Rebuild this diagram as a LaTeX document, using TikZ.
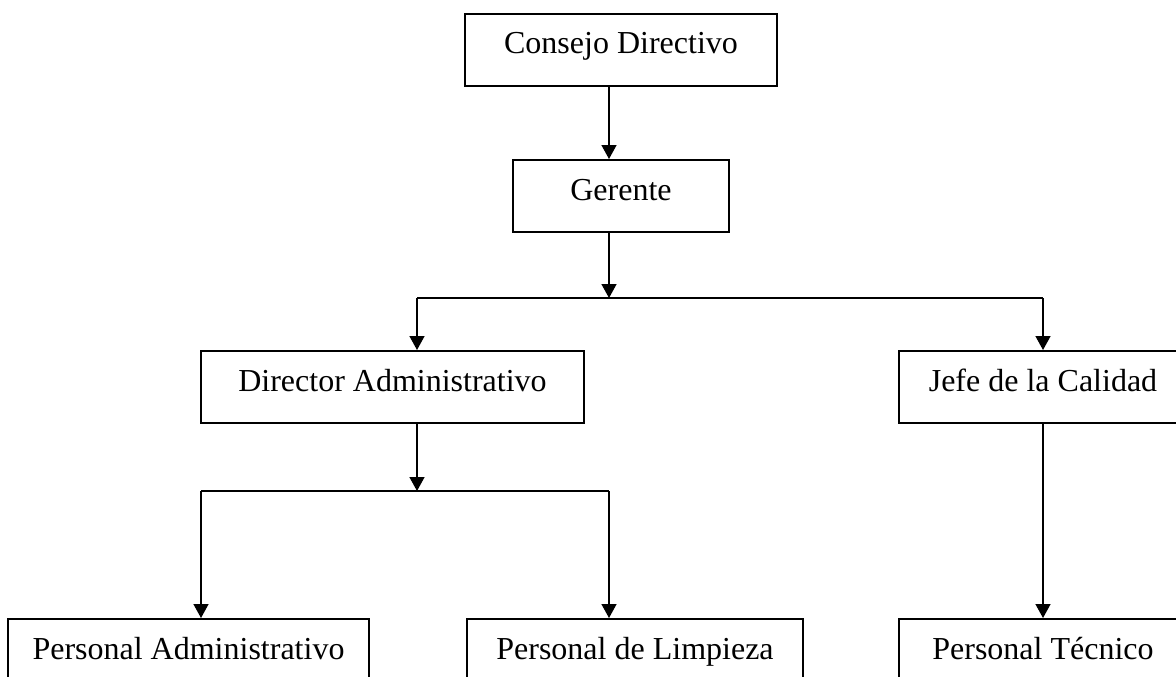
\documentclass[tikz,border=0pt]{standalone}
\usepackage{fontspec}
\setmainfont{Liberation Serif}
\usetikzlibrary{arrows.meta,positioning}

\begin{document}
\begin{tikzpicture}[x=1pt,y=1pt,line width=1.5pt,>={Triangle[length=14pt,width=15pt]},
  caja/.style={rectangle,draw,line width=2pt,inner sep=0pt,text height=40pt,text depth=32pt,font=\fontsize{32}{38}\selectfont}]
  \useasboundingbox (0,0) rectangle (1176,-677);
  \clip (0,0) rectangle (1176,-677);

  \node[caja,minimum width=312pt] (consejo) at (621,-50) {Consejo Directivo};
  \node[caja,minimum width=216pt] (gerente)[below=72pt of consejo] {Gerente};
  \node[caja,minimum width=383pt] (director)[below=117pt of gerente,xshift=-228.5pt] {Director Administrativo};
  \node[caja,minimum width=288pt] (jefe)[right=313pt of director] {Jefe de la Calidad};
  \node[caja,minimum width=361pt] (padm)[below=194pt of director,xshift=-204pt] {Personal Administrativo};
  \node[caja,minimum width=336pt] (limpieza)[right=96pt of padm] {Personal de Limpieza};
  \node[caja,minimum width=288pt] (tecnico)[below=194pt of jefe] {Personal Técnico};

  \coordinate (rama1) at (609,-298);
  \coordinate (ramaI) at (417,-298);
  \coordinate (rama2) at (417,-491);
  \coordinate (ramaA) at (201,-491);
  \coordinate (ramaB) at (609,-491);

  \draw[->] (consejo.south -| rama1) -- (gerente.north -| rama1);
  \draw[->] (gerente.south -| rama1) -- (rama1);
  \draw (ramaI) -- (rama1 -| jefe);
  \draw[->] (ramaI) -- (ramaI |- director.north);
  \draw[->] (rama1 -| jefe) -- (jefe.north);

  \draw[->] (director.south -| rama2) -- (rama2);
  \draw (ramaA) -- (ramaB);
  \draw[->] (ramaA) -- (ramaA |- padm.north);
  \draw[->] (ramaB) -- (ramaB |- limpieza.north);
  \draw[->] (jefe.south) -- (tecnico.north);
\end{tikzpicture}
\end{document}
